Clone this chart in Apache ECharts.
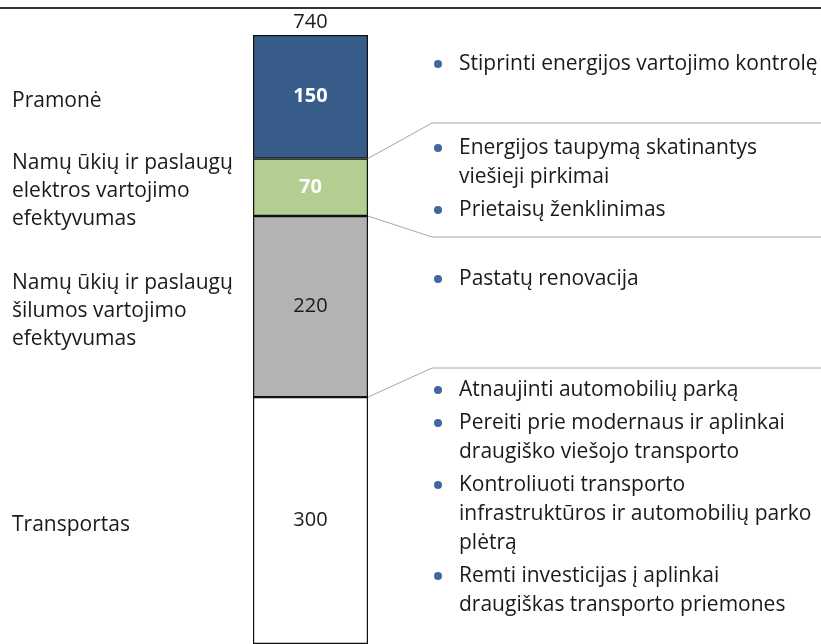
<!DOCTYPE html>
<html>
<head>
<meta charset="utf-8">
<script src="https://cdn.jsdelivr.net/npm/echarts@6/dist/echarts.min.js"></script>
<style>
html, body { margin: 0; padding: 0; background: #fff; }
#main { width: 821px; height: 644px; }
</style>
</head>
<body>
<div id="main"></div>
<script>
// duomenys (nuo apačios į viršų)
var categories = ['Suvartojimas'];
var sectors = ['Transportas', 'Šiluma', 'Elektra', 'Pramonė'];
var values = [300, 220, 70, 150];
var colors = ['#ffffff', '#b3b3b3', '#b2cf91', '#385d8a'];
var valueColors = ['#1a1a1a', '#1a1a1a', '#ffffff', '#ffffff'];
var valueWeights = ['normal', 'normal', 'bold', 'bold'];

var leftLabels = [
    ['Transportas'],
    ['Namų ūkių ir paslaugų', 'šilumos vartojimo', 'efektyvumas'],
    ['Namų ūkių ir paslaugų', 'elektros vartojimo', 'efektyvumas'],
    ['Pramonė']
];

var measures = [
    [['Atnaujinti automobilių parką'],
     ['Pereiti prie modernaus ir aplinkai', 'draugiško viešojo transporto'],
     ['Kontroliuoti transporto', 'infrastruktūros ir automobilių parko', 'plėtrą'],
     ['Remti investicijas į aplinkai', 'draugiškas transporto priemones']],
    [['Pastatų renovacija']],
    [['Energijos taupymą skatinantys', 'viešieji pirkimai'],
     ['Prietaisų ženklinimas']],
    [['Stiprinti energijos vartojimo kontrolę']]
];
var measuresTop = [390, 279, 148, 64];

var total = values.reduce(function (a, b) { return a + b; }, 0);
var font = 'Open Sans';
var fs = 21;

var myChart = echarts.init(document.getElementById('main'));

var series = sectors.map(function (name, i) {
    return {
        name: name,
        type: 'bar',
        stack: 'total',
        barWidth: '100%',
        data: [values[i]],
        itemStyle: { color: colors[i], borderColor: '#111', borderWidth: 1.2 },
        label: {
            show: true,
            position: 'inside',
            color: valueColors[i],
            fontWeight: valueWeights[i],
            fontSize: 20,
            fontFamily: font
        }
    };
});
// suma virš stulpelio
series.push({
    name: 'Iš viso',
    type: 'bar',
    stack: 'total',
    barWidth: '100%',
    data: [0],
    itemStyle: { color: 'transparent', borderWidth: 0 },
    label: {
        show: true,
        position: 'top',
        distance: 3,
        formatter: String(total),
        color: '#1a1a1a',
        fontSize: 20,
        fontFamily: font
    }
});

var option = {
    animation: false,
    grid: { left: 253, right: 453, top: 35, bottom: -1 },
    xAxis: { type: 'category', data: categories, show: false },
    yAxis: { type: 'value', min: 0, max: total, show: false },
    series: series
};
myChart.setOption(option);

// anotacijos
var barRight = 821 - 453;
var graphics = [];
graphics.push({
    type: 'line',
    shape: { x1: 0, y1: 8, x2: 821, y2: 8 },
    style: { stroke: '#333', lineWidth: 2 }
});

var cum = 0;
values.forEach(function (v, i) {
    var yc = myChart.convertToPixel({ yAxisIndex: 0 }, cum + v / 2);
    graphics.push({
        type: 'text',
        x: 12,
        y: yc + 4,
        style: {
            text: leftLabels[i].join('\n'),
            fill: '#1a1a1a',
            fontSize: fs,
            fontFamily: font,
            lineHeight: 28,
            verticalAlign: 'middle'
        }
    });
    cum += v;
});

// jungiamosios linijos
var callouts = [[300, 368], [520, 237], [590, 123]];
callouts.forEach(function (c) {
    var yb = myChart.convertToPixel({ yAxisIndex: 0 }, c[0]);
    graphics.push({
        type: 'polyline',
        shape: { points: [[barRight, yb], [432, c[1]], [821, c[1]]] },
        style: { stroke: '#a6a6a6', lineWidth: 1, fill: null }
    });
});

// priemonės su taškais
measures.forEach(function (group, gi) {
    var y = measuresTop[gi];
    group.forEach(function (item) {
        graphics.push({
            type: 'circle',
            shape: { cx: 438, cy: y, r: 4 },
            style: { fill: '#3f68a0' }
        });
        item.forEach(function (line) {
            graphics.push({
                type: 'text',
                x: 459,
                y: y,
                style: {
                    text: line,
                    fill: '#1a1a1a',
                    fontSize: fs,
                    fontFamily: font,
                    verticalAlign: 'middle'
                }
            });
            y += 29;
        });
        y += 4;
    });
});

myChart.setOption({ graphic: graphics });
</script>
</body>
</html>
